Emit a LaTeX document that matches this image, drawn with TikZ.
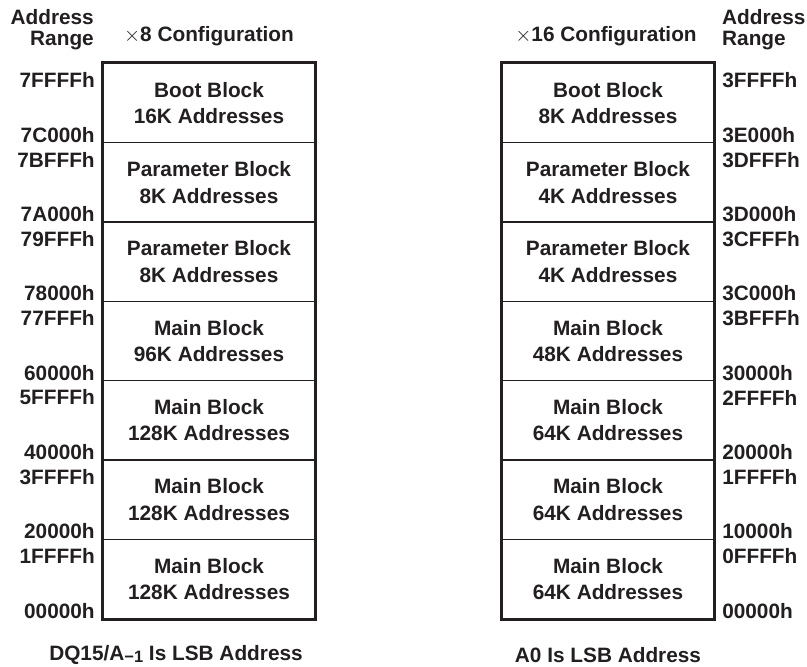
\documentclass[tikz,border=0pt]{standalone}
\usepackage{fontspec}
\setmainfont{Liberation Sans}
\usetikzlibrary{calc}
\definecolor{ink}{HTML}{231F20}
\newcommand{\lblfont}{\fontsize{20.8}{21}\selectfont\bfseries}
\newcommand{\blkfont}{\fontsize{20.8}{26.5}\selectfont\bfseries}
\tikzset{
  blk/.style={draw=ink, line width=1.2pt, minimum width=211pt, minimum height=79.29pt,
              inner sep=0pt, align=center, font=\blkfont, text=ink},
  addr/.style={inner sep=0pt, font=\lblfont, text=ink},
  title/.style={inner sep=0pt, font=\lblfont, text=ink},
  frame/.style={draw=ink, line width=3pt}
}
\begin{document}
\begin{tikzpicture}[x=1pt, y=-1pt]
\useasboundingbox (0,0) rectangle (807,667);

% x8 configuration (left column)
\foreach \i/\a/\b/\hi/\lo in {
  1/Boot Block/16K/7FFFFh/7C000h,
  2/Parameter Block/8K/7BFFFh/7A000h,
  3/Parameter Block/8K/79FFFh/78000h,
  4/Main Block/96K/77FFFh/60000h,
  5/Main Block/128K/5FFFFh/40000h,
  6/Main Block/128K/3FFFFh/20000h,
  7/Main Block/128K/1FFFFh/00000h}{
  \node[blk] (L\i) at (209, {63.5+(\i-0.5)*79.29}) {\a\\\b{} Addresses};
  \node[addr, anchor=east] (Lhi\i) at ($(L\i.north west)+(-8,17.5)$) {\hi};
  \node[addr, anchor=east] (Llo\i) at ($(L\i.south west)+(-8,-8.5)$) {\lo};
}
\draw[frame] (L1.north west) rectangle (L7.south east);

% x16 configuration (right column)
\foreach \i/\a/\b/\hi/\lo in {
  1/Boot Block/8K/3FFFFh/3E000h,
  2/Parameter Block/4K/3DFFFh/3D000h,
  3/Parameter Block/4K/3CFFFh/3C000h,
  4/Main Block/48K/3BFFFh/30000h,
  5/Main Block/64K/2FFFFh/20000h,
  6/Main Block/64K/1FFFFh/10000h,
  7/Main Block/64K/0FFFFh/00000h}{
  \node[blk] (R\i) at (608, {63.5+(\i-0.5)*79.29}) {\a\\\b{} Addresses};
  \node[addr, anchor=west] (Rhi\i) at ($(R\i.north east)+(8,17.5)$) {\hi};
  \node[addr, anchor=west] (Rlo\i) at ($(R\i.south east)+(8,-8.5)$) {\lo};
}
\draw[frame] (R1.north west) rectangle (R7.south east);

% column headings
\node[title, align=right, anchor=north east] (lrange) at (94,9) {Address\\Range};
\node[title] (lconf) at (209,36) {$\times$8 Configuration};
\node[title, align=left, anchor=north west] (rrange) at (722,9) {Address\\Range};
\node[title] (rconf) at (606,36) {$\times$16 Configuration};

% footnotes
\node[title, anchor=base] (lnote) at (176,660) {DQ15/A\raisebox{-0.25ex}{\fontsize{16.5}{16.5}\selectfont\bfseries −1} Is LSB Address};
\node[title, anchor=base] (rnote) at (608,662) {A0 Is LSB Address};
\end{tikzpicture}
\end{document}
